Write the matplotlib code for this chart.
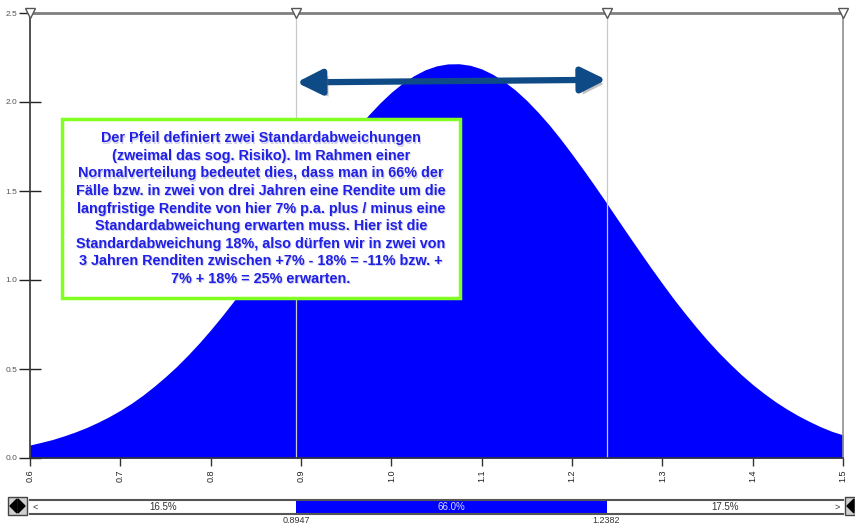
import numpy as np
import matplotlib.pyplot as plt
import matplotlib.patheffects as pe
from matplotlib.patches import Rectangle, Polygon

# density (x step 0.0125)
x_vals = [0.6000, 0.6125, 0.6250, 0.6375, 0.6500, 0.6625, 0.6750, 0.6875,
          0.7000, 0.7125, 0.7250, 0.7375, 0.7500, 0.7625, 0.7750, 0.7875,
          0.8000, 0.8125, 0.8250, 0.8375, 0.8500, 0.8625, 0.8750, 0.8875,
          0.9000, 0.9125, 0.9250, 0.9375, 0.9500, 0.9625, 0.9750, 0.9875,
          1.0000, 1.0125, 1.0250, 1.0375, 1.0500, 1.0625, 1.0750, 1.0875,
          1.1000, 1.1125, 1.1250, 1.1375, 1.1500, 1.1625, 1.1750, 1.1875,
          1.2000, 1.2125, 1.2250, 1.2375, 1.2500, 1.2625, 1.2750, 1.2875,
          1.3000, 1.3125, 1.3250, 1.3375, 1.3500, 1.3625, 1.3750, 1.3875,
          1.4000, 1.4125, 1.4250, 1.4375, 1.4500, 1.4625, 1.4750, 1.4875,
          1.5000]
density = [0.073, 0.088, 0.104, 0.124, 0.146, 0.171, 0.200, 0.232,
           0.268, 0.308, 0.353, 0.403, 0.457, 0.515, 0.579, 0.647,
           0.720, 0.797, 0.878, 0.962, 1.050, 1.140, 1.232, 1.326,
           1.418, 1.511, 1.602, 1.690, 1.775, 1.854, 1.928, 1.995,
           2.055, 2.106, 2.148, 2.181, 2.203, 2.214, 2.215, 2.206,
           2.186, 2.155, 2.115, 2.066, 2.008, 1.942, 1.870, 1.791,
           1.707, 1.620, 1.530, 1.438, 1.344, 1.251, 1.159, 1.068,
           0.980, 0.894, 0.813, 0.735, 0.661, 0.592, 0.528, 0.468,
           0.413, 0.363, 0.317, 0.276, 0.239, 0.206, 0.176, 0.150,
           0.130]

LEFT_CUT = 0.8947
RIGHT_CUT = 1.2382
shares = ["16.5%", "66.0%", "17.5%"]
x_ticks = [0.6, 0.7, 0.8, 0.9, 1.0, 1.1, 1.2, 1.3, 1.4, 1.5]
y_ticks = [0.0, 0.5, 1.0, 1.5, 2.0, 2.5]

note = ("Der Pfeil definiert zwei Standardabweichungen\n"
        "(zweimal das sog. Risiko). Im Rahmen einer\n"
        "Normalverteilung bedeutet dies, dass man in 66% der\n"
        "Fälle bzw. in zwei von drei Jahren eine Rendite um die\n"
        "langfristige Rendite von hier 7% p.a. plus / minus eine\n"
        "Standardabweichung erwarten muss. Hier ist die\n"
        "Standardabweichung 18%, also dürfen wir in zwei von\n"
        "3 Jahren Renditen zwischen +7% - 18% = -11% bzw. +\n"
        "7% + 18% = 25% erwarten.")

W, H = 855, 525
fig = plt.figure(figsize=(W / 100, H / 100), dpi=100)
plt.rcParams['font.family'] = ['Liberation Sans', 'DejaVu Sans']

def fx(px):
    return px / W

def fy(py):
    return 1 - py / H

ax = fig.add_axes([fx(30), fy(458), fx(843) - fx(30), fy(13) - fy(458)])
ax.fill_between(x_vals, density, 0, color="#0000ff", lw=0, zorder=1)
ax.set_xlim(0.6, 1.5)
ax.set_ylim(0, 2.5)

for v in [LEFT_CUT, RIGHT_CUT]:
    ax.axvline(v, color="#c8c8c8", lw=0.9, zorder=2)

for s in ["left", "bottom"]:
    ax.spines[s].set_color("#333333")
    ax.spines[s].set_linewidth(1.2)
ax.spines["top"].set_color("#808080")
ax.spines["top"].set_linewidth(2)
ax.spines["right"].set_color("#909090")
ax.spines["right"].set_linewidth(1.2)

ax.set_xticks(x_ticks)
ax.set_xticklabels([f"{t:.1f}" for t in x_ticks], rotation=90, fontsize=6.5, color="#222222")
ax.set_yticks(y_ticks)
ax.set_yticklabels([f"{t:.1f}" for t in y_ticks], fontsize=6, color="#555555")
ax.tick_params(axis="x", direction="out", length=6, width=1, color="#333333", pad=2)
ax.tick_params(axis="y", direction="inout", length=16, width=1, color="#222222", pad=1)

# delimiter triangles on top
for v in [0.6, LEFT_CUT, RIGHT_CUT, 1.5]:
    ax.plot(v, 2.5, marker="v", ms=7, mfc="white", mec="#555555", mew=1,
            clip_on=False, zorder=6)

# double arrow with shadow
arr = ax.annotate("", xy=(1.238, 2.125), xytext=(0.895, 2.11),
                  arrowprops=dict(arrowstyle="<|-|>,head_length=1.5,head_width=0.75",
                                  color="#0e4a85", lw=4.5, shrinkA=0, shrinkB=0),
                  zorder=5)
arr.arrow_patch.set_path_effects([pe.SimplePatchShadow(offset=(3, -3), shadow_rgbFace="#777777", alpha=0.45),
                                  pe.Normal()])

# note box
box = Rectangle((fx(62), fy(298)), fx(460) - fx(62), fy(119) - fy(298),
                transform=fig.transFigure, facecolor="white", edgecolor="#80ff20",
                lw=2.5, zorder=7)
fig.add_artist(box)
cx, cy = (fx(62) + fx(460)) / 2, (fy(119) + fy(298)) / 2
fig.text(cx + 0.0012, cy - 0.0022, note, ha="center", va="center", fontsize=10.4,
         fontweight="bold", color="#a0a0d0", linespacing=1.32, zorder=8, alpha=0.5)
fig.text(cx, cy, note, ha="center", va="center", fontsize=10.4, fontweight="bold",
         color="#2020e6", linespacing=1.32, zorder=9)

# percentile bar below
bx = fig.add_axes([fx(30), fy(514), fx(843) - fx(30), fy(500) - fy(514)])
bx.set_xlim(0.6, 1.5)
bx.set_ylim(0, 1)
bx.axvspan(LEFT_CUT, RIGHT_CUT, color="#0000ff", lw=0)
bx.set_xticks([])
bx.set_yticks([])
for s in ["left", "right"]:
    bx.spines[s].set_visible(False)
for s in ["top", "bottom"]:
    bx.spines[s].set_color("#555555")
    bx.spines[s].set_linewidth(1.5)
bx.text((0.6 + LEFT_CUT) / 2, 0.5, shares[0], ha="center", va="center", fontsize=7, color="#333333")
bx.text((LEFT_CUT + RIGHT_CUT) / 2, 0.5, shares[1], ha="center", va="center", fontsize=7, color="#d8d8ff")
bx.text((RIGHT_CUT + 1.5) / 2, 0.5, shares[2], ha="center", va="center", fontsize=7, color="#333333")
bx.text(0.603, 0.5, "<", ha="left", va="center", fontsize=6.5, color="#333333")
bx.text(1.497, 0.5, ">", ha="right", va="center", fontsize=6.5, color="#333333")
bx.text(LEFT_CUT, -0.15, f"{LEFT_CUT:.4f}", ha="center", va="top", fontsize=6.5, color="#333333", clip_on=False)
bx.text(RIGHT_CUT, -0.15, f"{RIGHT_CUT:.4f}", ha="center", va="top", fontsize=6.5, color="#333333", clip_on=False)

# small scroll buttons
fig.add_artist(Rectangle((fx(8), fy(515)), fx(19), fy(497) - fy(515),
                         transform=fig.transFigure, facecolor="#d0d0d0", edgecolor="#444444", lw=1))
fig.add_artist(Rectangle((fx(845), fy(515)), fx(10), fy(497) - fy(515),
                         transform=fig.transFigure, facecolor="#d0d0d0", edgecolor="#444444", lw=1))
fig.add_artist(Polygon([(fx(10), fy(506)), (fx(17), fy(499)), (fx(17), fy(513))],
                       closed=True, transform=fig.transFigure, color="black"))
fig.add_artist(Polygon([(fx(25), fy(506)), (fx(18), fy(499)), (fx(18), fy(513))],
                       closed=True, transform=fig.transFigure, color="black"))
fig.add_artist(Polygon([(fx(847), fy(506)), (fx(854), fy(499)), (fx(854), fy(513))],
                       closed=True, transform=fig.transFigure, color="black"))

fig.savefig("out.png", dpi=100)
